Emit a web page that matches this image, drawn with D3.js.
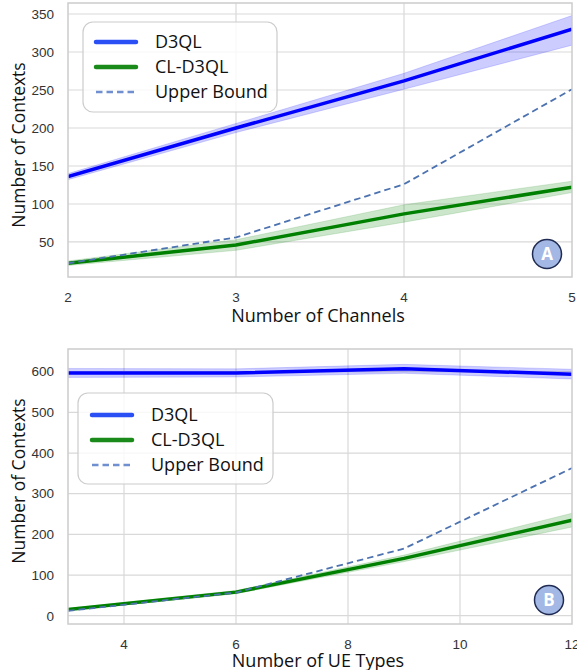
<!DOCTYPE html>
<html><head><meta charset="utf-8">
<script src="https://cdn.jsdelivr.net/npm/d3@7/dist/d3.min.js"></script>
<style>body{margin:0;background:#fff}svg{display:block}</style>
</head><body>
<svg id="c" width="577" height="670"></svg>
<script>
// Panel A data
const channels = [2, 3, 4, 5];
const aD3QL = [136, 200, 262, 330];
const aD3QLLo = [132, 194, 251, 309];
const aD3QLHi = [140, 206, 272, 348];
const aCL = [22, 46, 87, 122];
const aCLLo = [19, 39, 76, 115];
const aCLHi = [25, 53, 99, 130];
const aUpper = [22, 56, 126, 251];
const aXTicks = [2, 3, 4, 5];
const aYTicks = [50, 100, 150, 200, 250, 300, 350];

// Panel B data
const ueTypes = [3, 6, 9, 12];
const bD3QL = [597, 597, 607, 594];
const bD3QLLo = [586, 587, 596, 582];
const bD3QLHi = [608, 607, 618, 606];
const bCL = [15, 58, 141, 235];
const bCLLo = [12, 54, 133, 218];
const bCLHi = [18, 62, 149, 252];
const bUpper = [12, 57, 165, 363];
const bXTicks = [4, 6, 8, 10, 12];
const bYTicks = [0, 100, 200, 300, 400, 500, 600];

const seriesNames = ["D3QL", "CL-D3QL", "Upper Bound"];

const svg = d3.select("#c");
const tickFont = "'Liberation Sans', Arial, sans-serif";
const labFont = "'Open Sans', 'Lato', sans-serif";

function panel(cfg) {
  const g = svg.append("g");
  const x = d3.scaleLinear().domain(cfg.xDomain).range([68, 572]);
  const y = d3.scaleLinear().domain(cfg.yDomain).range([cfg.bottom, cfg.top]);
  const clipId = "clip" + cfg.badge;
  svg.append("defs").append("clipPath").attr("id", clipId)
    .append("rect").attr("x", 68).attr("y", cfg.top).attr("width", 504).attr("height", cfg.bottom - cfg.top);

  // grid
  const grid = g.append("g");
  cfg.xTicks.forEach(t => {
    if (x(t) > 69 && x(t) < 571)
      grid.append("line").attr("x1", x(t)).attr("x2", x(t)).attr("y1", cfg.top).attr("y2", cfg.bottom)
        .attr("stroke", "#d9d9d9").attr("stroke-width", 1.2);
  });
  cfg.yTicks.forEach(t => {
    grid.append("line").attr("x1", 68).attr("x2", 572).attr("y1", y(t)).attr("y2", y(t))
      .attr("stroke", "#d9d9d9").attr("stroke-width", 1.2);
  });

  const data = cfg.xs.map((xv, i) => ({x: xv, d: cfg.d3ql[i], dl: cfg.d3qlLo[i], dh: cfg.d3qlHi[i],
    c: cfg.cl[i], cl: cfg.clLo[i], ch: cfg.clHi[i], u: cfg.upper[i]}));
  const plot = g.append("g").attr("clip-path", `url(#${clipId})`);

  const areaD = d3.area().x(d => x(d.x)).y0(d => y(d.dl)).y1(d => y(d.dh));
  const areaC = d3.area().x(d => x(d.x)).y0(d => y(d.cl)).y1(d => y(d.ch));
  plot.append("path").attr("d", areaD(data)).attr("fill", "#0000ff").attr("fill-opacity", 0.2)
    .attr("stroke", "#0000ff").attr("stroke-opacity", 0.15).attr("stroke-width", 1);
  plot.append("path").attr("d", areaC(data)).attr("fill", "#008000").attr("fill-opacity", 0.2)
    .attr("stroke", "#008000").attr("stroke-opacity", 0.15).attr("stroke-width", 1);

  const line = acc => d3.line().x(d => x(d.x)).y(d => y(acc(d)));
  plot.append("path").attr("d", line(d => d.d)(data)).attr("fill", "none")
    .attr("stroke", "#0000ff").attr("stroke-width", 3.5);
  plot.append("path").attr("d", line(d => d.c)(data)).attr("fill", "none")
    .attr("stroke", "#008000").attr("stroke-width", 3.5);
  plot.append("path").attr("d", line(d => d.u)(data)).attr("fill", "none")
    .attr("stroke", "#4c72b0").attr("stroke-width", 1.8).attr("stroke-dasharray", "6.5,4");

  // frame
  g.append("rect").attr("x", 68).attr("y", cfg.top).attr("width", 504).attr("height", cfg.bottom - cfg.top)
    .attr("fill", "none").attr("stroke", "#cccccc").attr("stroke-width", 1.5);

  // tick labels
  cfg.yTicks.forEach(t => {
    g.append("text").attr("x", 54).attr("y", y(t) + 4.8).attr("text-anchor", "end")
      .attr("font-family", tickFont).attr("font-size", 13.5).attr("fill", "#333").text(t);
  });
  cfg.xTicks.forEach(t => {
    g.append("text").attr("x", x(t)).attr("y", cfg.xTickY).attr("text-anchor", "middle")
      .attr("font-family", tickFont).attr("font-size", 13.5).attr("fill", "#333").text(t);
  });

  // axis titles
  g.append("text").attr("x", 318).attr("y", cfg.xTitleY).attr("text-anchor", "middle")
    .attr("font-family", labFont).attr("font-size", 18).attr("fill", "#111").text(cfg.xTitle);
  g.append("text").attr("transform", `translate(25,${cfg.yTitleC}) rotate(-90)`).attr("text-anchor", "middle")
    .attr("font-family", labFont).attr("font-size", 17.5).attr("fill", "#111").text("Number of Contexts");

  // legend
  const L = cfg.legend;
  g.append("rect").attr("x", L.x).attr("y", L.y).attr("width", L.w).attr("height", L.h).attr("rx", 10)
    .attr("fill", "#fff").attr("fill-opacity", 0.8).attr("stroke", "#cccccc").attr("stroke-width", 1.2);
  const styles = [
    {c: "#2a4ff5", w: 4.5, dash: null},
    {c: "#1a8a1a", w: 4.5, dash: null},
    {c: "#6f8fd0", w: 2.4, dash: "6.5,4"}
  ];
  seriesNames.forEach((n, i) => {
    const yy = L.y + L.r0 + i * 25;
    g.append("line").attr("x1", L.lx).attr("x2", L.lx + 40).attr("y1", yy).attr("y2", yy)
      .attr("stroke", styles[i].c).attr("stroke-width", styles[i].w)
      .attr("stroke-linecap", styles[i].dash ? "butt" : "round")
      .attr("stroke-dasharray", styles[i].dash);
    g.append("text").attr("x", L.lx + 59).attr("y", yy + 6).attr("font-family", labFont)
      .attr("font-size", 18).attr("fill", "#111").text(n);
  });

  // badge
  const B = cfg.badgePos;
  g.append("circle").attr("cx", B[0]).attr("cy", B[1]).attr("r", 14.5)
    .attr("fill", "#a3b8e4").attr("stroke", "#1f2b52").attr("stroke-width", 1.5);
  g.append("text").attr("x", B[0]).attr("y", B[1] + 6).attr("text-anchor", "middle")
    .attr("font-family", labFont).attr("font-weight", "bold").attr("font-size", 17).attr("fill", "#fff").text(cfg.badge);
}

panel({
  xs: channels, d3ql: aD3QL, d3qlLo: aD3QLLo, d3qlHi: aD3QLHi, cl: aCL, clLo: aCLLo, clHi: aCLHi, upper: aUpper,
  xDomain: [2, 5], yDomain: [3.9, 364.5], top: 3, bottom: 277,
  xTicks: aXTicks, yTicks: aYTicks, xTickY: 302, xTitleY: 322, yTitleC: 145,
  xTitle: "Number of Channels",
  legend: {x: 83, y: 22, w: 194, h: 90, r0: 20, lx: 96},
  badge: "A", badgePos: [547, 254]
});
panel({
  xs: ueTypes, d3ql: bD3QL, d3qlLo: bD3QLLo, d3qlHi: bD3QLHi, cl: bCL, clLo: bCLLo, clHi: bCLHi, upper: bUpper,
  xDomain: [3, 12], yDomain: [-20.4, 655.8], top: 349, bottom: 624,
  xTicks: bXTicks, yTicks: bYTicks, xTickY: 649, xTitleY: 667, yTitleC: 481,
  xTitle: "Number of UE Types",
  legend: {x: 78, y: 393, w: 195, h: 91, r0: 22, lx: 92},
  badge: "B", badgePos: [549, 600]
});
</script>
</body></html>
